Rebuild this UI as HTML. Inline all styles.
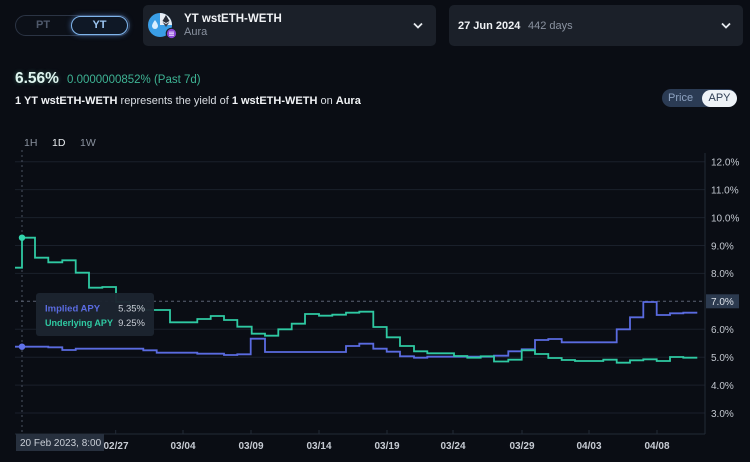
<!DOCTYPE html>
<html>
<head>
<meta charset="utf-8">
<style>
  html,body{margin:0;padding:0;}
  body{width:750px;height:462px;background:#0a0d14;overflow:hidden;position:relative;font-family:"Liberation Sans",sans-serif;color:#e6e9ee;}
  .abs{position:absolute;}
  .toggle{left:15px;top:15px;width:113px;height:19px;border:1px solid #2b3444;border-radius:11px;background:#0c1018;}
  .toggle .pt{position:absolute;left:20px;top:3px;font-size:11px;font-weight:bold;color:#4f596b;}
  .toggle .yt{position:absolute;left:55px;top:0px;width:55px;height:17px;border:1.5px solid #7fb4ea;border-radius:10px;box-shadow:0 0 6px rgba(110,170,255,0.55);background:#0f1826;}
  .toggle .yt span{position:absolute;left:0;right:0;top:2px;text-align:center;font-size:11px;font-weight:bold;color:#9cc6f2;}
  .box{background:#1b2029;border-radius:5px;}
  .title{font-size:11.5px;font-weight:bold;color:#f0f2f5;}
  .sub{font-size:11px;color:#8b93a1;}
</style>
</head>
<body>
<!-- PT / YT toggle -->
<div class="abs toggle"><div class="pt">PT</div><div class="yt"><span>YT</span></div></div>

<!-- token dropdown -->
<div class="abs box" style="left:143px;top:5px;width:293px;height:41px;"></div>
<svg class="abs" style="left:146px;top:11px;" width="32" height="30" viewBox="0 0 32 30">
  <circle cx="14" cy="14" r="12" fill="#3a9ee6"/>
  <path d="M14 2 A12 12 0 0 1 26 14 L14 14 Z" fill="#e9eef5"/>
  <path d="M20 4 L16.5 10 L20 12 L23.5 10 Z" fill="#2a2f3a"/>
  <path d="M16.5 11 L20 16 L23.5 11 L20 13 Z" fill="#3b4150"/>
  <path d="M9 9 Q12 13 12 15 A3 3 0 0 1 6 15 Q6 13 9 9 Z" fill="#d9efff"/>
  <circle cx="25.5" cy="22.5" r="5.2" fill="#8b48d6" stroke="#1b2029" stroke-width="1.2"/>
  <rect x="23" y="20.6" width="5" height="1" fill="#e8d8ff"/>
  <rect x="23" y="22.2" width="5" height="1" fill="#e8d8ff"/>
  <rect x="23" y="23.8" width="5" height="1" fill="#e8d8ff"/>
</svg>
<div class="abs title" style="left:184px;top:13px;">YT wstETH-WETH</div>
<div class="abs sub" style="left:184px;top:26px;">Aura</div>
<svg class="abs" style="left:412px;top:21px;" width="12" height="10"><polyline points="2,2.5 6,6.5 10,2.5" fill="none" stroke="#e6e9ee" stroke-width="1.8"/></svg>

<!-- date dropdown -->
<div class="abs box" style="left:449px;top:5px;width:294px;height:41px;"></div>
<div class="abs title" style="left:458px;top:20px;font-size:11px;">27 Jun 2024</div>
<div class="abs sub" style="left:528px;top:20px;">442 days</div>
<svg class="abs" style="left:720px;top:21px;" width="12" height="10"><polyline points="2,2.5 6,6.5 10,2.5" fill="none" stroke="#e6e9ee" stroke-width="1.8"/></svg>

<!-- value line -->
<div class="abs" style="left:15px;top:70px;font-size:15.5px;font-weight:bold;color:#dff5ef;text-shadow:0 0 4px rgba(120,230,200,0.35);">6.56%</div>
<div class="abs" style="left:67px;top:74px;font-size:11.5px;color:#3eb394;">0.0000000852% (Past 7d)</div>
<div class="abs" style="left:15px;top:94.5px;font-size:11px;color:#d9dde3;white-space:nowrap;"><b style="color:#f2f4f7">1 YT wstETH-WETH</b> represents the yield of <b style="color:#f2f4f7">1 wstETH-WETH</b> on <b style="color:#f2f4f7">Aura</b></div>

<!-- Price / APY toggle -->
<div class="abs" style="left:662px;top:89px;width:75px;height:18px;border-radius:9px;background:#2b3b54;"></div>
<div class="abs" style="left:668px;top:92px;font-size:11px;color:#8ea3c2;">Price</div>
<div class="abs" style="left:702px;top:89.5px;width:35px;height:17px;border-radius:9px;background:#eef2f7;"></div>
<div class="abs" style="left:702px;top:92px;width:35px;text-align:center;font-size:11px;color:#2e3d54;">APY</div>

<!-- timeframe -->
<div class="abs" style="left:24px;top:137px;font-size:10.5px;color:#8a929f;">1H</div>
<div class="abs" style="left:52px;top:137px;font-size:10.5px;color:#e8ebef;">1D</div>
<div class="abs" style="left:80px;top:137px;font-size:10.5px;color:#8a929f;">1W</div>

<!-- chart -->
<svg class="abs" style="left:0;top:0;" width="750" height="462" viewBox="0 0 750 462">
  <g stroke="#1a202b" stroke-width="1">
    <line x1="15" y1="161.7" x2="705" y2="161.7"/>
    <line x1="15" y1="189.6" x2="705" y2="189.6"/>
    <line x1="15" y1="217.6" x2="705" y2="217.6"/>
    <line x1="15" y1="245.5" x2="705" y2="245.5"/>
    <line x1="15" y1="273.4" x2="705" y2="273.4"/>
    <line x1="15" y1="329.2" x2="705" y2="329.2"/>
    <line x1="15" y1="357.2" x2="705" y2="357.2"/>
    <line x1="15" y1="385.1" x2="705" y2="385.1"/>
    <line x1="15" y1="413" x2="705" y2="413"/>
  </g>
  <line x1="15" y1="434" x2="705" y2="434" stroke="#222a36" stroke-width="1"/>
  <line x1="705" y1="153" x2="705" y2="434" stroke="#222a36" stroke-width="1"/>
  <g stroke="#222a36" stroke-width="1">
    <line x1="115.7" y1="430" x2="115.7" y2="434"/>
    <line x1="183" y1="430" x2="183" y2="434"/>
    <line x1="251" y1="430" x2="251" y2="434"/>
    <line x1="319" y1="430" x2="319" y2="434"/>
    <line x1="387" y1="430" x2="387" y2="434"/>
    <line x1="453" y1="430" x2="453" y2="434"/>
    <line x1="522" y1="430" x2="522" y2="434"/>
    <line x1="589" y1="430" x2="589" y2="434"/>
    <line x1="657" y1="430" x2="657" y2="434"/>
  </g>
  <!-- crosshairs -->
  <line x1="22" y1="150" x2="22" y2="434" stroke="#4a5262" stroke-width="1" stroke-dasharray="2,3"/>
  <line x1="15" y1="301.3" x2="705" y2="301.3" stroke="#5a6272" stroke-width="1" stroke-dasharray="3,3"/>

  <!-- implied APY -->
  <path d="M15,346.7 H48.3 V347.3 H62.3 V350 H75.7 V348.7 H143.3 V350.3 H156.7 V352.7 H197.3 V353.7 H224 V355 H237.3 V354.3 H250.7 V338.7 H265 V352 H346 V346 H359.3 V343.7 H373.3 V348.7 H386.7 V351.7 H400 V356.3 H414 V357.7 H427.3 V356.7 H494 V355.7 H508.3 V351.3 H521.7 V349.3 H535 V340 H548.3 V339 H561.7 V342.3 H616.7 V329.3 H630 V317.3 H643.3 V302 H656.7 V315 H670 V313.3 H683.3 V312.7 H697.3" fill="none" stroke="#5a6be0" stroke-width="1.8"/>
  <!-- underlying APY -->
  <path d="M15,267.7 H22 V237.7 H35 V257.7 H48.3 V262.3 H62.3 V260.3 H75.7 V272.7 H89 V287.7 H102.3 V287 H116 V302 H129.5 V307 H143 V310 H170 V322.3 H197.3 V319 H210.7 V316 H224 V320 H237.3 V326.7 H251.7 V333.7 H265 V335.7 H278.3 V329.3 H291.7 V323.7 H305 V314 H319 V315.7 H332.3 V314.7 H346 V312.7 H359.3 V311.7 H373.3 V327 H386.7 V337.3 H400 V346 H414 V351.3 H427.3 V353.3 H454 V356 H467.3 V357.7 H480.7 V356.3 H494 V361.5 H508.3 V359.7 H521.7 V350.3 H535 V354 H548.3 V358 H561.7 V360 H575 V361 H603.3 V359.7 H616.7 V362.7 H630 V360.3 H643.3 V359.3 H656.7 V361 H670 V357 H683.3 V357.7 H697.3" fill="none" stroke="#2fc9a2" stroke-width="1.8"/>
  <circle cx="22" cy="237.7" r="3.2" fill="#33d6ad"/>
  <circle cx="22" cy="346.7" r="3.2" fill="#6173ec"/>

  <!-- y labels -->
  <g font-family="Liberation Sans, sans-serif" font-size="10" fill="#c3c8d0">
    <text x="711" y="165.5">12.0%</text>
    <text x="711" y="193.4">11.0%</text>
    <text x="711" y="221.4">10.0%</text>
    <text x="711" y="249.3">9.0%</text>
    <text x="711" y="277.2">8.0%</text>
    <text x="711" y="333">6.0%</text>
    <text x="711" y="361">5.0%</text>
    <text x="711" y="388.9">4.0%</text>
    <text x="711" y="416.8">3.0%</text>
  </g>
  <rect x="706" y="294.3" width="33" height="14" fill="#2c3a4f"/>
  <text x="711" y="305" font-family="Liberation Sans, sans-serif" font-size="10" fill="#dde2e9">7.0%</text>

  <!-- x labels -->
  <g font-family="Liberation Sans, sans-serif" font-size="10" font-weight="bold" fill="#c6cbd3" text-anchor="middle">
    <text x="116" y="449">02/27</text>
    <text x="183" y="449">03/04</text>
    <text x="251" y="449">03/09</text>
    <text x="319" y="449">03/14</text>
    <text x="387" y="449">03/19</text>
    <text x="453" y="449">03/24</text>
    <text x="522" y="449">03/29</text>
    <text x="589" y="449">04/03</text>
    <text x="657" y="449">04/08</text>
  </g>
  <rect x="16" y="434" width="88" height="17" fill="#27303e"/>
  <text x="20" y="446" font-family="Liberation Sans, sans-serif" font-size="10" fill="#c9ced6">20 Feb 2023, 8:00</text>

  <!-- tooltip -->
  <rect x="36" y="293" width="118" height="43" rx="3" fill="#1c2430" opacity="0.97"/>
  <g font-family="Liberation Sans, sans-serif" font-size="9.5">
    <text x="45" y="311.5" fill="#5a6be0" font-weight="bold">Implied APY</text>
    <text x="145" y="311.5" fill="#c8cdd5" text-anchor="end">5.35%</text>
    <text x="45" y="326" fill="#2fc9a2" font-weight="bold" textLength="68" lengthAdjust="spacingAndGlyphs">Underlying APY</text>
    <text x="145" y="326" fill="#c8cdd5" text-anchor="end">9.25%</text>
  </g>
</svg>
</body>
</html>
